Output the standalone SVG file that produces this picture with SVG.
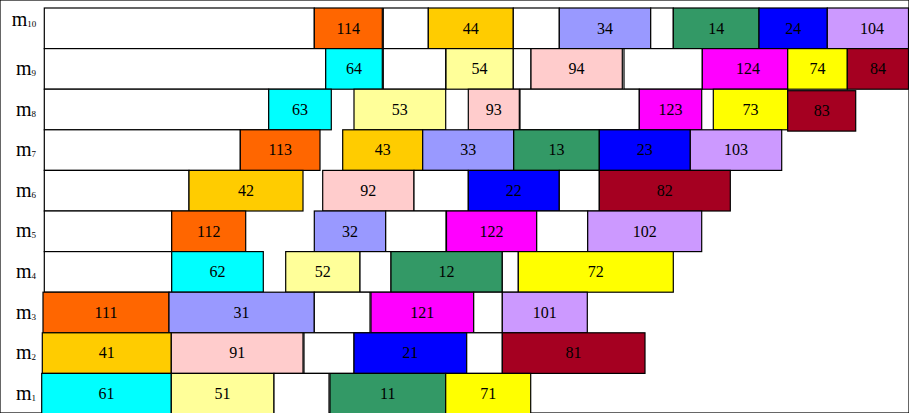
<svg xmlns="http://www.w3.org/2000/svg" width="909" height="413" viewBox="0 0 909 413">
<style>
rect{stroke:#000;stroke-width:1.2}
.w{fill:#fff}.o{fill:#FF6600}.g{fill:#FFCC00}.p{fill:#9999FF}.gr{fill:#339966}.b{fill:#0000FF}.l{fill:#CC99FF}.c{fill:#00FFFF}.ly{fill:#FFFF99}.pk{fill:#FFCCCC}.m{fill:#FF00FF}.y{fill:#FFFF00}.dr{fill:#A50021}
text{font-family:"Liberation Serif","Times New Roman",serif;fill:#000}
.n{font-size:16px;text-anchor:middle}
.lab{font-size:20px}
.sub{font-size:9px}
</style>
<rect x="0" y="0" width="909" height="413" fill="#fff" stroke="none"/>
<g id="labels">
<text class="lab" x="11.7" y="26">m<tspan class="sub" dy="1">10</tspan></text>
<text class="lab" x="16" y="75">m<tspan class="sub" dy="1">9</tspan></text>
<text class="lab" x="16" y="115.6">m<tspan class="sub" dy="1">8</tspan></text>
<text class="lab" x="16" y="156.2">m<tspan class="sub" dy="1">7</tspan></text>
<text class="lab" x="16" y="196.8">m<tspan class="sub" dy="1">6</tspan></text>
<text class="lab" x="16" y="237.4">m<tspan class="sub" dy="1">5</tspan></text>
<text class="lab" x="16" y="278">m<tspan class="sub" dy="1">4</tspan></text>
<text class="lab" x="16" y="318.6">m<tspan class="sub" dy="1">3</tspan></text>
<text class="lab" x="16" y="359.2">m<tspan class="sub" dy="1">2</tspan></text>
<text class="lab" x="16" y="399.8">m<tspan class="sub" dy="1">1</tspan></text>
</g>
<g id="row-m10">
<rect class="w" x="44.3" y="8" width="270" height="40.6"/>
<g id="t114"><rect class="o" x="314.3" y="8" width="68" height="40.6"/><text class="n" x="348.3" y="33.5">114</text></g>
<rect class="w" x="383.3" y="8" width="45" height="40.6"/>
<g id="t44"><rect class="g" x="428.3" y="8" width="85" height="40.6"/><text class="n" x="470.8" y="33.5">44</text></g>
<rect class="w" x="513.3" y="8" width="46" height="40.6"/>
<g id="t34"><rect class="p" x="559.3" y="8" width="91.4" height="40.6"/><text class="n" x="605" y="33.5">34</text></g>
<rect class="w" x="650.7" y="8" width="22.6" height="40.6"/>
<g id="t14"><rect class="gr" x="673.3" y="8" width="85.7" height="40.6"/><text class="n" x="716.2" y="33.5">14</text></g>
<g id="t24"><rect class="b" x="759" y="8" width="68.3" height="40.6"/><text class="n" x="793.2" y="33.5">24</text></g>
<g id="t104"><rect class="l" x="827.3" y="8" width="81.2" height="40.6"/><text class="n" x="872" y="33.5">104</text></g>
</g>
<g id="row-m9">
<rect class="w" x="44.3" y="48.6" width="281.4" height="40.6"/>
<g id="t64"><rect class="c" x="325.7" y="48.6" width="56.6" height="40.6"/><text class="n" x="354" y="74.1">64</text></g>
<rect class="w" x="383.3" y="48.6" width="62.4" height="40.6"/>
<g id="t54"><rect class="ly" x="446" y="48.6" width="67.3" height="40.6"/><text class="n" x="479.6" y="74.1">54</text></g>
<rect class="w" x="513.3" y="48.6" width="17.7" height="40.6"/>
<g id="t94"><rect class="pk" x="531" y="48.6" width="91.3" height="40.6"/><text class="n" x="576.6" y="74.1">94</text></g>
<rect class="w" x="624" y="48.6" width="78.3" height="40.6"/>
<g id="t124"><rect class="m" x="702.3" y="48.6" width="85.4" height="40.6"/><text class="n" x="748" y="74.1">124</text></g>
<g id="t74"><rect class="y" x="787.7" y="48.6" width="59.6" height="40.6"/><text class="n" x="817.5" y="74.1">74</text></g>
<g id="t84"><rect class="dr" x="847.3" y="48.6" width="61.2" height="40.6"/><text class="n" x="878" y="74.1">84</text></g>
</g>
<g id="row-m8">
<rect class="w" x="44.3" y="89.2" width="224.4" height="40.6"/>
<g id="t63"><rect class="c" x="268.7" y="89.2" width="62.6" height="40.6"/><text class="n" x="300" y="114.7">63</text></g>
<g id="t53"><rect class="ly" x="354" y="89.2" width="91.7" height="40.6"/><text class="n" x="399.8" y="114.7">53</text></g>
<g id="t93"><rect class="pk" x="468.3" y="89.2" width="51" height="40.6"/><text class="n" x="493.8" y="114.7">93</text></g>
<rect class="w" x="520" y="89.2" width="119.3" height="40.6"/>
<g id="t123"><rect class="m" x="639.3" y="89.2" width="62.4" height="40.6"/><text class="n" x="670.5" y="114.7">123</text></g>
<g id="t73"><rect class="y" x="713.3" y="89.2" width="74.4" height="40.6"/><text class="n" x="750.5" y="114.7">73</text></g>
<g id="t83"><rect class="dr" x="787.7" y="90.7" width="68" height="40.4"/><text class="n" x="821.7" y="116.2">83</text></g>
</g>
<g id="row-m7">
<rect class="w" x="44.3" y="129.8" width="196" height="40.6"/>
<g id="t113"><rect class="o" x="240.3" y="129.8" width="79.7" height="40.6"/><text class="n" x="280.2" y="155.3">113</text></g>
<g id="t43"><rect class="g" x="342.7" y="129.8" width="80" height="40.6"/><text class="n" x="382.7" y="155.3">43</text></g>
<g id="t33"><rect class="p" x="422.7" y="129.8" width="91" height="40.6"/><text class="n" x="468.2" y="155.3">33</text></g>
<g id="t13"><rect class="gr" x="513.7" y="129.8" width="85.6" height="40.6"/><text class="n" x="556.5" y="155.3">13</text></g>
<g id="t23"><rect class="b" x="599.3" y="129.8" width="91" height="40.6"/><text class="n" x="644.8" y="155.3">23</text></g>
<g id="t103"><rect class="l" x="690.3" y="129.8" width="91.4" height="40.6"/><text class="n" x="736" y="155.3">103</text></g>
</g>
<g id="row-m6">
<rect class="w" x="44.3" y="170.4" width="144.7" height="40.6"/>
<g id="t42"><rect class="g" x="189" y="170.4" width="114" height="40.6"/><text class="n" x="246" y="195.9">42</text></g>
<g id="t92"><rect class="pk" x="322.7" y="170.4" width="91.3" height="40.6"/><text class="n" x="368.3" y="195.9">92</text></g>
<rect class="w" x="414" y="170.4" width="54.3" height="40.6"/>
<g id="t22"><rect class="b" x="468.3" y="170.4" width="91" height="40.6"/><text class="n" x="513.8" y="195.9">22</text></g>
<rect class="w" x="559.3" y="170.4" width="40" height="40.6"/>
<g id="t82"><rect class="dr" x="599.3" y="170.4" width="131" height="40.6"/><text class="n" x="664.8" y="195.9">82</text></g>
</g>
<g id="row-m5">
<rect class="w" x="44.3" y="211" width="127.4" height="40.6"/>
<g id="t112"><rect class="o" x="171.7" y="211" width="74" height="40.6"/><text class="n" x="208.7" y="236.5">112</text></g>
<g id="t32"><rect class="p" x="314.3" y="211" width="71.4" height="40.6"/><text class="n" x="350" y="236.5">32</text></g>
<rect class="w" x="385.7" y="211" width="60.3" height="40.6"/>
<g id="t122"><rect class="m" x="446.5" y="211" width="90.2" height="40.6"/><text class="n" x="491.6" y="236.5">122</text></g>
<rect class="w" x="536.7" y="211" width="51" height="40.6"/>
<g id="t102"><rect class="l" x="587.7" y="211" width="114" height="40.6"/><text class="n" x="644.7" y="236.5">102</text></g>
</g>
<g id="row-m4">
<rect class="w" x="44.3" y="251.6" width="127.4" height="40.6"/>
<g id="t62"><rect class="c" x="171.7" y="251.6" width="91.6" height="40.6"/><text class="n" x="217.5" y="277.1">62</text></g>
<g id="t52"><rect class="ly" x="285.7" y="251.6" width="74.3" height="40.6"/><text class="n" x="322.8" y="277.1">52</text></g>
<rect class="w" x="360" y="251.6" width="31" height="40.6"/>
<g id="t12"><rect class="gr" x="391" y="251.6" width="111.3" height="40.6"/><text class="n" x="446.6" y="277.1">12</text></g>
<rect class="w" x="502.3" y="251.6" width="16" height="40.6"/>
<g id="t72"><rect class="y" x="518.3" y="251.6" width="155" height="40.6"/><text class="n" x="595.8" y="277.1">72</text></g>
</g>
<g id="row-m3">
<g id="t111"><rect class="o" x="43" y="292.2" width="126" height="40.6"/><text class="n" x="106" y="317.7">111</text></g>
<g id="t31"><rect class="p" x="169" y="292.2" width="145.3" height="40.6"/><text class="n" x="241.6" y="317.7">31</text></g>
<rect class="w" x="314.3" y="292.2" width="55.7" height="40.6"/>
<g id="t121"><rect class="m" x="371" y="292.2" width="102.7" height="40.6"/><text class="n" x="422.3" y="317.7">121</text></g>
<rect class="w" x="473.7" y="292.2" width="28.6" height="40.6"/>
<g id="t101"><rect class="l" x="502.3" y="292.2" width="85" height="40.6"/><text class="n" x="544.8" y="317.7">101</text></g>
</g>
<g id="row-m2">
<g id="t41"><rect class="g" x="42.3" y="332.8" width="129" height="40.6"/><text class="n" x="106.8" y="358.3">41</text></g>
<g id="t91"><rect class="pk" x="171.3" y="332.8" width="131.7" height="40.6"/><text class="n" x="237.2" y="358.3">91</text></g>
<rect class="w" x="304" y="332.8" width="50" height="40.6"/>
<g id="t21"><rect class="b" x="354" y="332.8" width="112.7" height="40.6"/><text class="n" x="410.3" y="358.3">21</text></g>
<rect class="w" x="466.7" y="332.8" width="35.6" height="40.6"/>
<g id="t81"><rect class="dr" x="502.3" y="332.8" width="142.7" height="40.6"/><text class="n" x="573.6" y="358.3">81</text></g>
</g>
<g id="row-m1">
<g id="t61"><rect class="c" x="41.7" y="373.4" width="129.6" height="40.6"/><text class="n" x="106.5" y="398.9">61</text></g>
<g id="t51"><rect class="ly" x="171.3" y="373.4" width="102.7" height="40.6"/><text class="n" x="222.6" y="398.9">51</text></g>
<rect class="w" x="274" y="373.4" width="55" height="40.6"/>
<g id="t11"><rect class="gr" x="330" y="373.4" width="115.7" height="40.6"/><text class="n" x="387.8" y="398.9">11</text></g>
<g id="t71"><rect class="y" x="445.7" y="373.4" width="85" height="40.6"/><text class="n" x="488.2" y="398.9">71</text></g>
</g>
</svg>
